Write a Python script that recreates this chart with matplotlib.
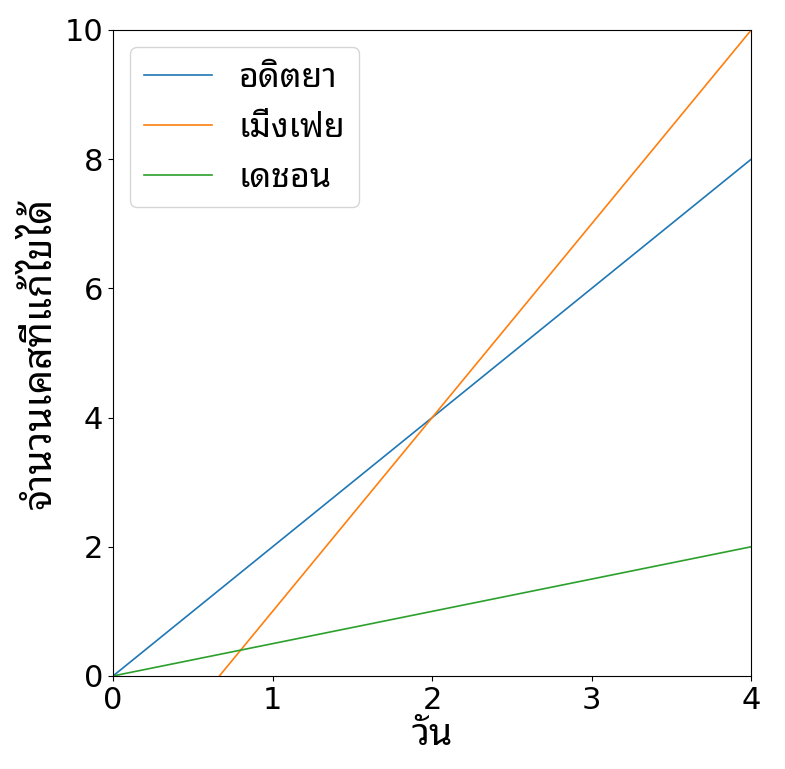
import matplotlib
matplotlib.use('Agg')
import matplotlib.pyplot as plt

# ข้อมูล
days = [0, 1, 2, 3, 4]
aditya = [0, 2, 4, 6, 8]
mengfei = [-2, 1, 4, 7, 10]
dechon = [0, 0.5, 1, 1.5, 2]
names = ['อดิตยา', 'เมิ่งเฟย', 'เดชอน']

plt.rcParams['font.family'] = ['DejaVu Sans', 'Noto Sans Thai Looped']
plt.rcParams['font.size'] = 22

fig = plt.figure(figsize=(7.85, 7.69), dpi=100)
ax = fig.add_axes([0.144, 0.121, 0.813, 0.840])

ax.plot(days, aditya, label=names[0], color='#1f77b4', lw=1.2)
ax.plot(days, mengfei, label=names[1], color='#ff7f0e', lw=1.2)
ax.plot(days, dechon, label=names[2], color='#2ca02c', lw=1.2)

ax.set_xlim(0, 4)
ax.set_ylim(0, 10)
ax.set_xticks([0, 1, 2, 3, 4])
ax.set_yticks([0, 2, 4, 6, 8, 10])
ax.tick_params(labelsize=22)
ax.set_xlabel('วัน', fontsize=27, labelpad=2)
ax.set_ylabel('จำนวนเคสที่แก้ไขได้', fontsize=28, labelpad=4)
ax.legend(loc='upper left', fontsize=24.5)

fig.savefig('out.png', dpi=100)
